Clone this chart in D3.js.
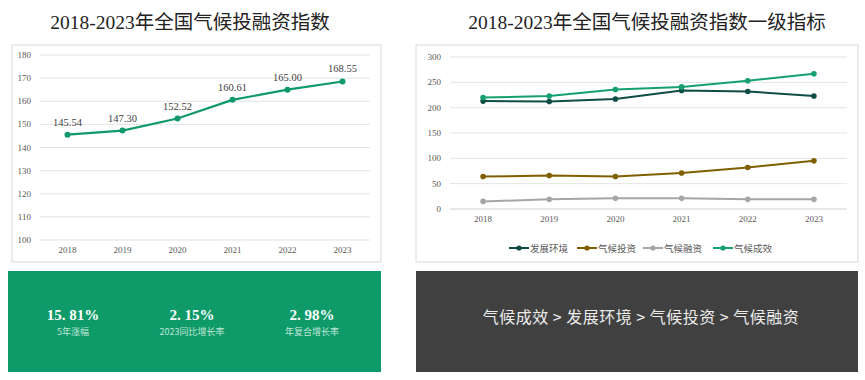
<!DOCTYPE html>
<html>
<head>
<meta charset="utf-8">
<script src="https://cdn.jsdelivr.net/npm/d3@7"></script>
<style>
  body { margin: 0; background: #fff; }
  svg { display: block; }
</style>
</head>
<body>
<svg id="chart" width="865" height="380"></svg>
<script>
// ===============================
// DATA
// ===============================

const years = ["2018", "2019", "2020", "2021", "2022", "2023"];

const indexValues = [145.54, 147.30, 152.52, 160.61, 165.00, 168.55];
const indexTicks = [100, 110, 120, 130, 140, 150, 160, 170, 180];

const seriesNames = ["发展环境", "气候投资", "气候融资", "气候成效"];
const seriesColors = ["#0e4d45", "#7f5f00", "#a6a6a6", "#14a06f"];
const envValues = [213, 212, 217, 234, 232, 223];
const investValues = [64, 66, 64, 71, 82, 95];
const financeValues = [15, 19, 21, 21, 19, 19];
const effectValues = [220, 223, 236, 241, 253, 267];
const levelTicks = [0, 50, 100, 150, 200, 250, 300];

const statValues = ["15.81%", "2.15%", "2.98%"];
const statLabels = ["5年涨幅", "2023同比增长率", "年复合增长率"];

const rankText = "气候成效 > 发展环境 > 气候投资 > 气候融资";

const serif = "'Liberation Serif', 'Times New Roman', 'Noto Sans CJK SC', serif";
const sans = "'Noto Sans CJK SC', 'Noto Sans', sans-serif";

const svg = d3.select("#chart");

// ===============================
// TITLES
// ===============================

svg.append("text")
    .attr("x", 190).attr("y", 29)
    .attr("text-anchor", "middle")
    .attr("font-family", serif)
    .attr("font-size", 19.5)
    .attr("fill", "#222")
    .text("2018-2023年全国气候投融资指数");

svg.append("text")
    .attr("x", 647).attr("y", 29)
    .attr("text-anchor", "middle")
    .attr("font-family", serif)
    .attr("font-size", 19.5)
    .attr("fill", "#222")
    .text("2018-2023年全国气候投融资指数一级指标");

// ===============================
// LEFT CHART
// ===============================

svg.append("rect")
    .attr("x", 12).attr("y", 45)
    .attr("width", 369).attr("height", 217)
    .attr("fill", "#fff")
    .attr("stroke", "#d9d9d9");

const xL = d3.scalePoint().domain(years).range([40, 370]).padding(0.5);
const yL = d3.scaleLinear().domain([100, 180]).range([240, 55]);

const gL = svg.append("g");

gL.selectAll(".grid")
    .data(indexTicks)
    .enter()
    .append("line")
    .attr("x1", 40).attr("x2", 370)
    .attr("y1", d => yL(d)).attr("y2", d => yL(d))
    .attr("stroke", "#e3e3e3");

gL.selectAll(".ytick")
    .data(indexTicks)
    .enter()
    .append("text")
    .attr("x", 31).attr("y", d => yL(d) + 3)
    .attr("text-anchor", "end")
    .attr("font-family", serif)
    .attr("font-size", 9)
    .attr("fill", "#595959")
    .text(d => d);

gL.selectAll(".xtick")
    .data(years)
    .enter()
    .append("text")
    .attr("x", d => xL(d)).attr("y", 253)
    .attr("text-anchor", "middle")
    .attr("font-family", serif)
    .attr("font-size", 9)
    .attr("fill", "#595959")
    .text(d => d);

const lineL = d3.line()
    .x((d, i) => xL(years[i]))
    .y(d => yL(d));

gL.append("path")
    .datum(indexValues)
    .attr("d", lineL)
    .attr("fill", "none")
    .attr("stroke", "#10996a")
    .attr("stroke-width", 2.2);

gL.selectAll(".dot")
    .data(indexValues)
    .enter()
    .append("circle")
    .attr("cx", (d, i) => xL(years[i]))
    .attr("cy", d => yL(d))
    .attr("r", 3)
    .attr("fill", "#10996a");

gL.selectAll(".label")
    .data(indexValues)
    .enter()
    .append("text")
    .attr("x", (d, i) => xL(years[i]))
    .attr("y", d => yL(d) - 9)
    .attr("text-anchor", "middle")
    .attr("font-family", serif)
    .attr("font-size", 10.5)
    .attr("fill", "#404040")
    .text(d => d.toFixed(2));

// ===============================
// RIGHT CHART
// ===============================

svg.append("rect")
    .attr("x", 416).attr("y", 45)
    .attr("width", 442).attr("height", 217)
    .attr("fill", "#fff")
    .attr("stroke", "#d9d9d9");

const xR = d3.scalePoint().domain(years).range([450, 847]).padding(0.5);
const yR = d3.scaleLinear().domain([0, 300]).range([209, 57]);

const gR = svg.append("g");

gR.selectAll(".grid")
    .data(levelTicks)
    .enter()
    .append("line")
    .attr("x1", 450).attr("x2", 847)
    .attr("y1", d => yR(d)).attr("y2", d => yR(d))
    .attr("stroke", d => d === 0 ? "#d0d0d0" : "#e3e3e3");

gR.selectAll(".ytick")
    .data(levelTicks)
    .enter()
    .append("text")
    .attr("x", 441).attr("y", d => yR(d) + 3)
    .attr("text-anchor", "end")
    .attr("font-family", serif)
    .attr("font-size", 9)
    .attr("fill", "#595959")
    .text(d => d);

gR.selectAll(".xtick")
    .data(years)
    .enter()
    .append("text")
    .attr("x", d => xR(d)).attr("y", 222)
    .attr("text-anchor", "middle")
    .attr("font-family", serif)
    .attr("font-size", 9)
    .attr("fill", "#595959")
    .text(d => d);

const allSeries = [envValues, investValues, financeValues, effectValues];

const lineR = d3.line()
    .x((d, i) => xR(years[i]))
    .y(d => yR(d));

allSeries.forEach((values, k) => {

    gR.append("path")
        .datum(values)
        .attr("d", lineR)
        .attr("fill", "none")
        .attr("stroke", seriesColors[k])
        .attr("stroke-width", 2);

    gR.selectAll(".dot" + k)
        .data(values)
        .enter()
        .append("circle")
        .attr("cx", (d, i) => xR(years[i]))
        .attr("cy", d => yR(d))
        .attr("r", 2.8)
        .attr("fill", seriesColors[k]);

});

// -------- LEGEND --------

const legendX = [509, 577, 643, 713];

const legend = gR.selectAll(".legend")
    .data(seriesNames)
    .enter()
    .append("g")
    .attr("transform", (d, i) => `translate(${legendX[i]},248)`);

legend.append("line")
    .attr("x1", 0).attr("x2", 20)
    .attr("stroke", (d, i) => seriesColors[i])
    .attr("stroke-width", 2);

legend.append("circle")
    .attr("cx", 10).attr("r", 2.6)
    .attr("fill", (d, i) => seriesColors[i]);

legend.append("text")
    .attr("x", 21).attr("y", 3.5)
    .attr("font-family", sans)
    .attr("font-size", 9.5)
    .attr("fill", "#595959")
    .text(d => d);

// ===============================
// STAT BOX
// ===============================

svg.append("rect")
    .attr("x", 8).attr("y", 271)
    .attr("width", 373).attr("height", 101)
    .attr("fill", "#0f9a6a");

const statX = [73, 192, 312];

svg.selectAll(".statValue")
    .data(statValues)
    .enter()
    .append("text")
    .attr("x", (d, i) => statX[i]).attr("y", 320)
    .attr("text-anchor", "middle")
    .attr("font-family", serif)
    .attr("font-weight", "bold")
    .attr("font-size", 15)
    .attr("fill", "#fff")
    .text(d => d.replace(".", ". "));

svg.selectAll(".statLabel")
    .data(statLabels)
    .enter()
    .append("text")
    .attr("x", (d, i) => statX[i]).attr("y", 335)
    .attr("text-anchor", "middle")
    .attr("font-family", sans)
    .attr("font-size", 9)
    .attr("fill", "#bfe6d6")
    .text(d => d);

// ===============================
// RANK BOX
// ===============================

svg.append("rect")
    .attr("x", 416).attr("y", 271)
    .attr("width", 442).attr("height", 101)
    .attr("fill", "#404040");

svg.append("text")
    .attr("x", 641).attr("y", 323)
    .attr("text-anchor", "middle")
    .attr("font-family", sans)
    .attr("font-size", 16)
    .attr("letter-spacing", 0.5)
    .attr("fill", "#ececec")
    .text(rankText);
</script>
</body>
</html>
